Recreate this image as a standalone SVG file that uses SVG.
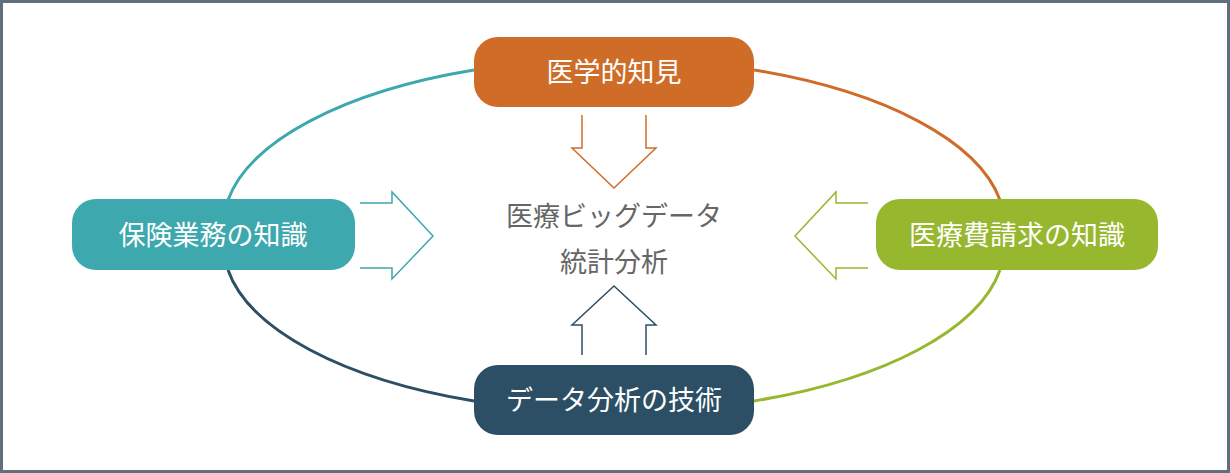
<svg xmlns="http://www.w3.org/2000/svg" width="1230" height="473" viewBox="0 0 1230 473">
<style>
.lbl{font-family:"Noto Sans CJK JP",sans-serif;font-size:27px;fill:#fff;text-anchor:middle}
.ctr{font-family:"Noto Sans CJK JP",sans-serif;font-size:27px;fill:#666;text-anchor:middle}
.ar{fill:#fff;stroke-width:1.5;stroke-linejoin:miter}
.ring{fill:none;stroke-width:3}
</style>
<rect x="1.5" y="1.5" width="1227" height="470" fill="#fff" stroke="#5f6f7c" stroke-width="3"/>
<g id="connectors">
<path class="ring" stroke="#3DA8AE" d="M474,70 A390,167 0 0 0 228,200"/>
<path class="ring" stroke="#CF6C28" d="M754,70 A390,167 0 0 1 1000,200"/>
<path class="ring" stroke="#96B72E" d="M1000,270 A390,167 0 0 1 754,401"/>
<path class="ring" stroke="#2C4F65" d="M228,270 A390,167 0 0 0 474,401"/>
<path class="ar" stroke="#CF6C28" d="M582,115 V148 H572 L614,188 L656,148 H646 V115"/>
<path class="ar" stroke="#3DA8AE" d="M360,203 H392 V192 L433,236 L392,279 V268 H360"/>
<path class="ar" stroke="#96B72E" d="M868,203 H836 V192 L795,236 L836,279 V268 H868"/>
<path class="ar" stroke="#2C4F65" d="M582,355 V325 H572 L614,286 L656,325 H646 V355"/>
</g>
<g id="center"><text class="ctr" x="614" y="226">医療ビッグデータ</text><text class="ctr" x="614" y="272">統計分析</text></g>
<g id="n-top"><rect x="474" y="37" width="280" height="70" rx="24" fill="#CF6C28"/><text class="lbl" x="614" y="82">医学的知見</text></g>
<g id="n-left"><rect x="72" y="199" width="283" height="71" rx="24" fill="#3DA8AE"/><text class="lbl" x="213" y="245">保険業務の知識</text></g>
<g id="n-right"><rect x="876" y="199" width="282" height="71" rx="24" fill="#96B72E"/><text class="lbl" x="1017" y="245">医療費請求の知識</text></g>
<g id="n-bottom"><rect x="474" y="365" width="280" height="70" rx="24" fill="#2C4F65"/><text class="lbl" x="614" y="410">データ分析の技術</text></g>
</svg>
